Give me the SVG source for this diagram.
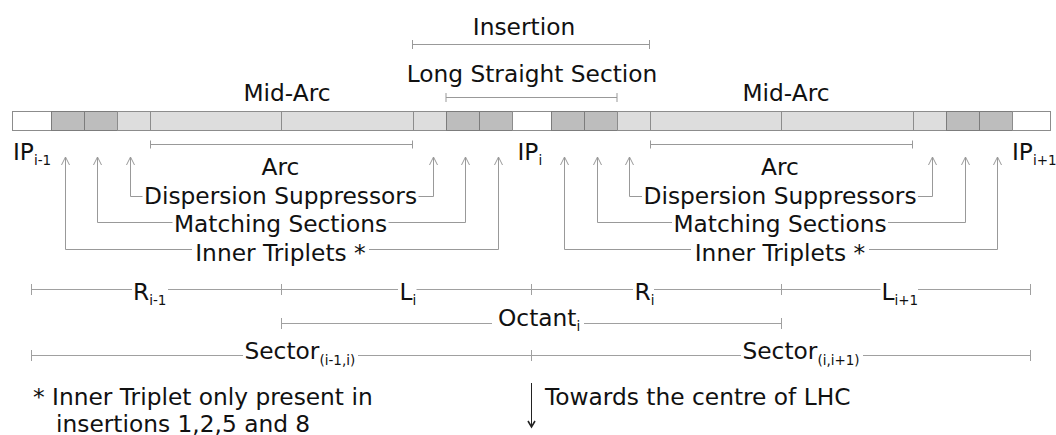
<svg xmlns="http://www.w3.org/2000/svg" width="1056" height="435" viewBox="0 0 1056 435">
<style>
.t{font-family:"DejaVu Sans",Verdana,sans-serif;font-size:23.3px;fill:#111}
.s{font-size:13.5px}
.w{fill:#ffffff;stroke:#8c8c8c;stroke-width:1}
.d{fill:#bdbdbd;stroke:#7c7c7c;stroke-width:1}
.l{fill:#dddddd;stroke:#8c8c8c;stroke-width:1}
.c{fill:none;stroke:#999;stroke-width:1}
.dim{fill:none;stroke:#a0a0a0;stroke-width:1}
</style>
<defs>
<marker id="chev" viewBox="-9 -5 10 10" markerWidth="10" markerHeight="10" refX="0" refY="0" orient="auto" markerUnits="userSpaceOnUse" overflow="visible">
<path d="M-8,-4 L0,0 L-8,4" fill="none" stroke="#999" stroke-width="1"/>
</marker>
<marker id="down" viewBox="-9 -5 10 10" markerWidth="10" markerHeight="10" refX="0" refY="0" orient="auto" markerUnits="userSpaceOnUse" overflow="visible">
<path d="M-6,-3.5 L0,0 L-6,3.5" fill="none" stroke="#222" stroke-width="1.6"/>
</marker>
</defs>
<rect width="1056" height="435" fill="#fff"/>

<g id="bar">
<rect class="w" x="12.5" y="111.5" width="39" height="19"/>
<rect class="d" x="51.5" y="111.5" width="33" height="19"/>
<rect class="d" x="84.5" y="111.5" width="33" height="19"/>
<rect class="l" x="117.5" y="111.5" width="33" height="19"/>
<rect class="l" x="150.5" y="111.5" width="131" height="19"/>
<rect class="l" x="281.5" y="111.5" width="132" height="19"/>
<rect class="l" x="413.5" y="111.5" width="33" height="19"/>
<rect class="d" x="446.5" y="111.5" width="33" height="19"/>
<rect class="d" x="479.5" y="111.5" width="33" height="19"/>
<rect class="w" x="512.5" y="111.5" width="39" height="19"/>
<rect class="d" x="551.5" y="111.5" width="33" height="19"/>
<rect class="d" x="584.5" y="111.5" width="33" height="19"/>
<rect class="l" x="617.5" y="111.5" width="33" height="19"/>
<rect class="l" x="650.5" y="111.5" width="131" height="19"/>
<rect class="l" x="781.5" y="111.5" width="132" height="19"/>
<rect class="l" x="913.5" y="111.5" width="33" height="19"/>
<rect class="d" x="946.5" y="111.5" width="33" height="19"/>
<rect class="d" x="979.5" y="111.5" width="33" height="19"/>
<rect class="w" x="1012.5" y="111.5" width="38" height="19"/>
</g>

<g id="top-labels">
<text id="lbl-insertion" class="t" x="524" y="35" text-anchor="middle">Insertion</text>
<text id="lbl-lss" class="t" x="532" y="82.3" text-anchor="middle">Long Straight Section</text>
<text id="lbl-midarc-left" class="t" x="287" y="100.7" text-anchor="middle">Mid-Arc</text>
<text id="lbl-midarc-right" class="t" x="786" y="100.7" text-anchor="middle">Mid-Arc</text>
</g>

<g id="ip-labels">
<text id="ip-prev" class="t" x="13" y="160">IP<tspan class="s" dy="5">i-1</tspan></text>
<text id="ip-i" class="t" x="517.5" y="160">IP<tspan class="s" dy="5">i</tspan></text>
<text id="ip-next" class="t" x="1012" y="160">IP<tspan class="s" dy="5">i+1</tspan></text>
</g>

<g id="left-labels">
<text id="arc-left" class="t" x="280.5" y="175" text-anchor="middle">Arc</text>
<text id="ds-left" class="t" x="280.5" y="204" text-anchor="middle">Dispersion Suppressors</text>
<text id="ms-left" class="t" x="280.5" y="231.5" text-anchor="middle">Matching Sections</text>
<text id="it-left" class="t" x="280.5" y="260.5" text-anchor="middle">Inner Triplets *</text>
</g>
<g id="right-labels">
<text id="arc-right" class="t" x="780" y="175" text-anchor="middle">Arc</text>
<text id="ds-right" class="t" x="780" y="204" text-anchor="middle">Dispersion Suppressors</text>
<text id="ms-right" class="t" x="780" y="231.5" text-anchor="middle">Matching Sections</text>
<text id="it-right" class="t" x="780" y="260.5" text-anchor="middle">Inner Triplets *</text>
</g>

<g id="connectors">
<path class="c" d="M412.5,44.5 H649.5 M412.5,40 V49 M649.5,40 V49"/>
<path class="c" d="M446,97.5 H617 M446,93 V102 M617,93 V102"/>
<path class="c" d="M150.5,144.5 H412.5 M150.5,140.5 V148.5 M412.5,140.5 V148.5"/>
<path class="c" d="M650.5,144.5 H912.5 M650.5,140.5 V148.5 M912.5,140.5 V148.5"/>

<path class="c" marker-end="url(#chev)" d="M142.5,196.5 H130.5 V157"/>
<path class="c" marker-end="url(#chev)" d="M418.5,196.5 H433.5 V157"/>
<path class="c" marker-end="url(#chev)" d="M172.5,222.5 H97.5 V157"/>
<path class="c" marker-end="url(#chev)" d="M388.5,222.5 H465.5 V157"/>
<path class="c" marker-end="url(#chev)" d="M192,249.5 H65.5 V157"/>
<path class="c" marker-end="url(#chev)" d="M369,249.5 H498.5 V157"/>

<path class="c" marker-end="url(#chev)" d="M642,196.5 H629.5 V157"/>
<path class="c" marker-end="url(#chev)" d="M918,196.5 H932.5 V157"/>
<path class="c" marker-end="url(#chev)" d="M672,222.5 H597.5 V157"/>
<path class="c" marker-end="url(#chev)" d="M888,222.5 H965.5 V157"/>
<path class="c" marker-end="url(#chev)" d="M691,249.5 H564.5 V157"/>
<path class="c" marker-end="url(#chev)" d="M869,249.5 H997.5 V157"/>

<path class="dim" d="M31.5,289.5 H132 M168,289.5 H398 M416.5,289.5 H633 M654,289.5 H880.5 M918,289.5 H1030.5"/>
<path class="dim" d="M31.5,284 V295 M281.5,284 V295 M531.5,284 V295 M781.5,284 V295 M1030.5,284 V295"/>
<path class="dim" d="M281.5,323.5 H492 M584,323.5 H781.5 M281.5,318 V329 M781.5,318 V329"/>
<path class="dim" d="M31.5,355.5 H243 M358,355.5 H741 M863,355.5 H1030.5 M31.5,350 V361 M531.5,350 V361 M1030.5,350 V361"/>

<path fill="none" stroke="#222" stroke-width="1" marker-end="url(#down)" d="M531.5,383 V427"/>
</g>

<g id="dimension-labels">
<text id="r-prev" class="t" x="133" y="299.5">R<tspan class="s" dy="5">i-1</tspan></text>
<text id="l-i" class="t" x="399.5" y="299.5">L<tspan class="s" dy="5">i</tspan></text>
<text id="r-i" class="t" x="634.5" y="299.5">R<tspan class="s" dy="5">i</tspan></text>
<text id="l-next" class="t" x="881.5" y="299.5">L<tspan class="s" dy="5">i+1</tspan></text>
<text id="octant" class="t" x="498" y="326">Octant<tspan class="s" dy="5">i</tspan></text>
<text id="sector-left" class="t" x="244.5" y="359">Sector<tspan class="s" dy="6">(i-1,i)</tspan></text>
<text id="sector-right" class="t" x="742.5" y="359">Sector<tspan class="s" dy="6">(i,i+1)</tspan></text>
</g>

<g id="notes">
<text id="footnote" class="t" x="33" y="405">* Inner Triplet only present in</text>
<text id="footnote2" class="t" x="56" y="431.5">insertions 1,2,5 and 8</text>
<text id="towards" class="t" x="545" y="405">Towards the centre of LHC</text>
</g>
</svg>
